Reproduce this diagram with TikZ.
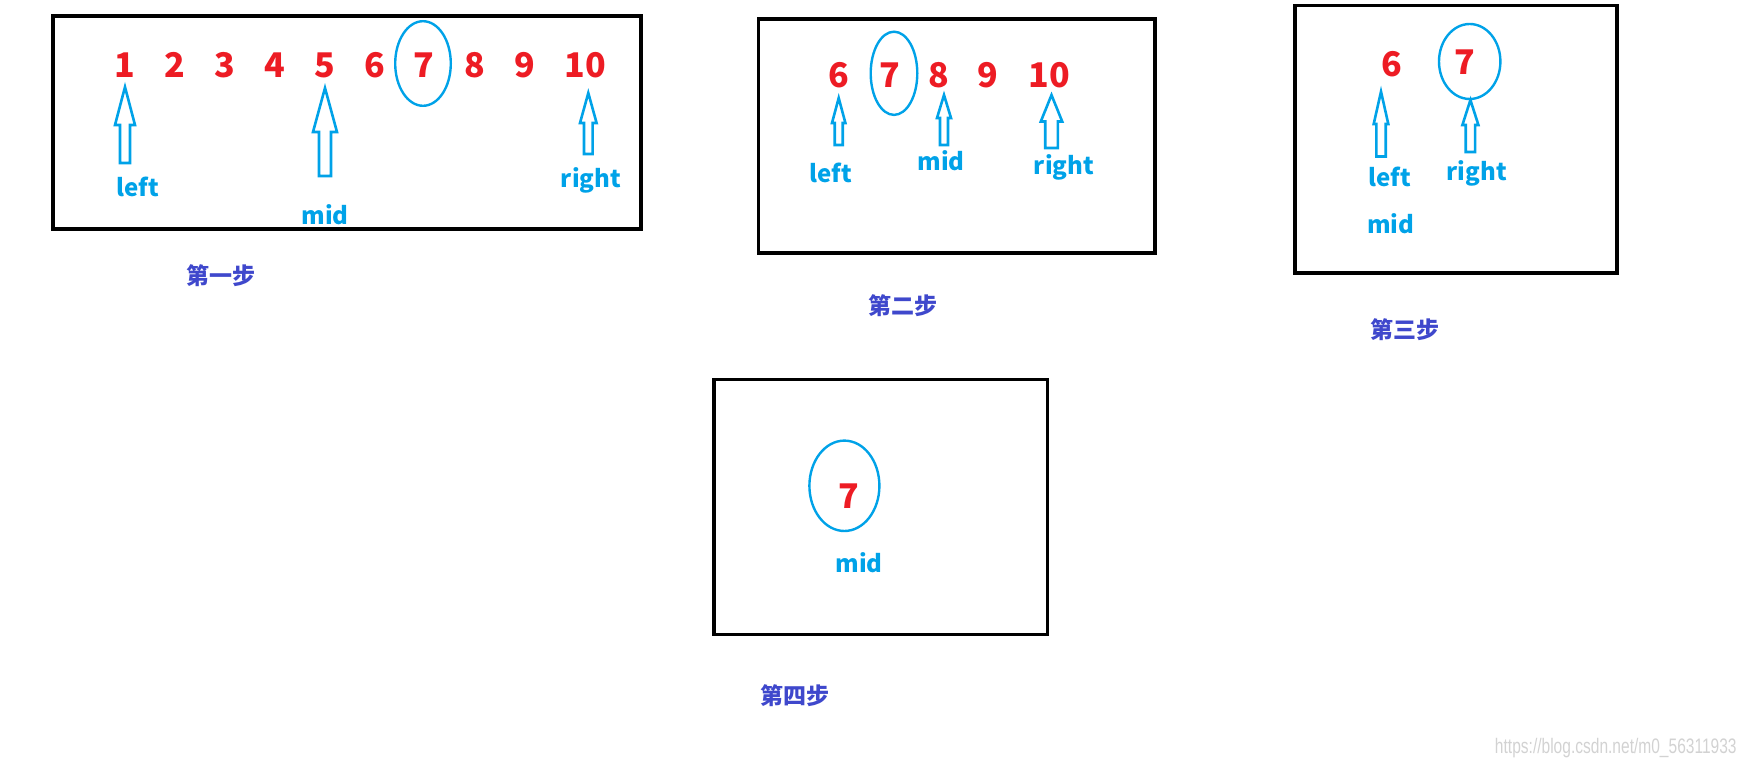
\documentclass[tikz,border=0pt]{standalone}
\usepackage{fontspec}
\setmainfont{Noto Sans CJK SC}
\newfontfamily\wmfont{Liberation Sans}
\definecolor{pred}{RGB}{237,28,36}
\definecolor{pblue}{RGB}{0,162,232}
\definecolor{pindigo}{RGB}{63,72,204}
\definecolor{wmgray}{RGB}{210,210,210}
\tikzset{
  frame/.style={draw=black,line width=1.6pt},
  digit/.style={text=pred,font=\fontsize{17}{17}\selectfont\bfseries,inner sep=0pt,anchor=base},
  ptr/.style={text=pblue,font=\fontsize{12}{12}\selectfont\bfseries,inner sep=0pt,anchor=base},
  steplabel/.style={text=pindigo,font=\fontsize{11.5}{11.5}\selectfont\bfseries,inner sep=0pt},
  ring/.style={draw=pblue,line width=1.2pt},
  hollow/.style={draw=pblue,line width=1.3pt,line join=miter},
}
% x, tip y, head base y, bottom y, head half width, shaft half width
\newcommand\hollowup[6]{%
  \draw[hollow] (#1,#2) -- (#1+#5,#3) -- (#1+#6,#3) -- (#1+#6,#4) -- (#1-#6,#4)
    -- (#1-#6,#3) -- (#1-#5,#3) -- cycle;}
\begin{document}
\begin{tikzpicture}[x=0.5pt,y=-0.5pt]
\useasboundingbox (0,0) rectangle (1746,765);

% ---------- step 1 ----------
\draw[frame] (53,16) rectangle (641,229);
\node[digit] (a1) at (124.7,78) {1};
\node[digit] (a2) at (174.8,78) {2};
\node[digit] (a3) at (224.9,78) {3};
\node[digit] (a4) at (275,78) {4};
\node[digit] (a5) at (325.1,78) {5};
\node[digit] (a6) at (375.2,78) {6};
\node[digit] (a7) at (424.2,78) {7};
\node[digit] (a8) at (474.4,78) {8};
\node[digit] (a9) at (524.5,78) {9};
\node[digit] (a10) at (585.7,78) {10};
\draw[ring] (423,63.5) ellipse [x radius=27.8, y radius=42.3];
\hollowup{125}{87}{125}{163}{10}{5}
\hollowup{325}{88}{132}{176}{12}{6}
\hollowup{588.3}{93}{123}{154}{8.3}{4.3}
\node[ptr] (l1) at (137.5,197) {left};
\node[ptr] (m1) at (325,224) {mid};
\node[ptr] (r1) at (591,187) {right};
\node[steplabel] (s1) at (221,276) {第一步};

% ---------- step 2 ----------
\draw[frame] (758.5,19) rectangle (1155,253);
\node[digit] (b6) at (838.7,88) {6};
\node[digit] (b7) at (890,88) {7};
\node[digit] (b8) at (938.8,88) {8};
\node[digit] (b9) at (988,88) {9};
\node[digit] (b10) at (1049.5,88) {10};
\draw[ring] (894,73.3) ellipse [x radius=23.3, y radius=41.6];
\hollowup{838.7}{98}{123}{145}{6.7}{4}
\hollowup{944}{95}{118}{145}{7}{4}
\hollowup{1051.5}{95}{121.5}{148}{10.7}{6.3}
\node[ptr] (l2) at (831,183) {left};
\node[ptr] (m2) at (941,170) {mid};
\node[ptr] (r2) at (1064,175) {right};
\node[steplabel] (s2) at (903.4,305.5) {第二步};

% ---------- step 3 ----------
\draw[frame] (1295,5.5) rectangle (1617,273);
\node[digit] (c6) at (1391.7,77) {6};
\node[digit] (c7) at (1465,75) {7};
\draw[ring] (1469.7,61.5) ellipse [x radius=30.7, y radius=37.5];
\hollowup{1381}{91.6}{124}{156.5}{7.3}{4.7}
\hollowup{1470.4}{100}{125}{152}{8}{4.7}
\node[ptr] (l3) at (1389.5,186) {left};
\node[ptr] (r3) at (1476.7,180) {right};
\node[ptr] (m3) at (1390.8,233) {mid};
\node[steplabel] (s3) at (1404.5,329.5) {第三步};

% ---------- step 4 ----------
\draw[frame] (714,379.5) rectangle (1047.5,634.5);
\draw[ring] (844.4,485.8) ellipse [x radius=35, y radius=45.2];
\node[digit] (d7) at (849,508) {7};
\node[ptr] (m4) at (859,572.6) {mid};
\node[steplabel] (s4) at (794.5,695.5) {第四步};

% ---------- watermark ----------
\node[text=wmgray,font=\wmfont\fontsize{10.5}{10.5}\selectfont,inner sep=0pt,anchor=base east] (wm) at (1737,753)
  {\scalebox{0.74}[1]{https://blog.csdn.net/m0\_56311933}};
\end{tikzpicture}
\end{document}
